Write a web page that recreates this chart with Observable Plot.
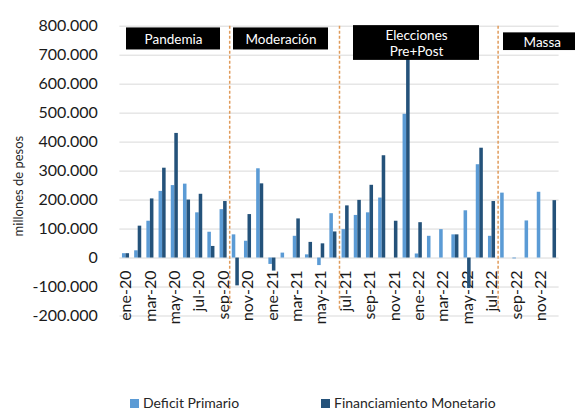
<!DOCTYPE html>
<html>
<head>
<meta charset="utf-8">
<script src="https://cdn.jsdelivr.net/npm/d3@7"></script>
<script src="https://cdn.jsdelivr.net/npm/@observablehq/plot@0.6"></script>
<style>
  body { margin: 0; background: #fff; font-family: Lato, sans-serif; }
  #chart { position: relative; width: 575px; height: 410px; overflow: hidden; }
  .legend { position: absolute; top: 393px; left: 0; width: 575px; height: 20px;
            font-size: 14px; line-height: 20px; color: #262626; }
  .item { position: absolute; top: 0; display: flex; align-items: center; gap: 4px; white-space: nowrap; }
  .sw { width: 9px; height: 9px; display: inline-block; }
</style>
</head>
<body>
<div id="chart"></div>
<script>
// Monthly series, in millones de pesos
const months = [
  "ene-20","feb-20","mar-20","abr-20","may-20","jun-20","jul-20","ago-20","sep-20","oct-20","nov-20","dic-20",
  "ene-21","feb-21","mar-21","abr-21","may-21","jun-21","jul-21","ago-21","sep-21","oct-21","nov-21","dic-21",
  "ene-22","feb-22","mar-22","abr-22","may-22","jun-22","jul-22","ago-22","sep-22","oct-22","nov-22","dic-22"
];
const deficitPrimario = [
  15000, 25000, 127000, 230000, 250000, 255000, 156000, 89000, 167000, 80000, 58000, 308000,
  -22000, 17000, 75000, 11000, -26000, 153000, 98000, 147000, 156000, 207000, 0, 496000,
  14000, 75000, 98000, 80000, 163000, 322000, 75000, 224000, -3000, 128000, 227000, 0
];
const financiamientoMonetario = [
  15000, 110000, 204000, 310000, 430000, 200000, 220000, 40000, 195000, -96000, 150000, 256000,
  -45000, 0, 135000, 54000, 49000, 90000, 180000, 199000, 251000, 353000, 127000, 700000,
  122000, 0, 0, 80000, -105000, 379000, 195000, 0, 0, 0, 0, 198000
];
const yTicks = [-200000, -100000, 0, 100000, 200000, 300000, 400000, 500000, 600000, 700000, 800000];
const seriesNames = ["Deficit Primario", "Financiamiento Monetario"];
const periods = [
  { name: "Pandemia", from: "ene-20", to: "sep-20" },
  { name: "Moderación", from: "oct-20", to: "jun-21" },
  { name: "Elecciones\nPre+Post", from: "jul-21", to: "jul-22" },
  { name: "Massa", from: "ago-22", to: "dic-22" }
];

const colors = ["#5b9bd5", "#24527a"];
const idx = m => months.indexOf(m);
const fmt = d3.formatLocale({ decimal: ",", thousands: ".", grouping: [3], currency: ["$", ""], minus: "-" }).format(",d");

const rowsA = months.map((m, i) => ({ i, v: deficitPrimario[i] }));
const rowsB = months.map((m, i) => ({ i, v: financiamientoMonetario[i] }));
const labelIdx = months.map((m, i) => i).filter(i => i % 2 === 0);
const separators = periods.slice(1).map(p => idx(p.from) - 0.5);

// Label boxes: horizontal insets in px, vertical extent in axis units
const boxLayout = {
  "Pandemia":             { l: 6.6,  r: 9.2,   y1: 718000, y2: 794000 },
  "Moderación":           { l: 3.8,  r: 11,    y1: 718000, y2: 794000 },
  "Elecciones\nPre+Post": { l: 14,   r: 18.6,  y1: 682000, y2: 802000 },
  "Massa":                { l: 5.4,  r: -22,   y1: 716000, y2: 777000 }
};
const boxMarks = periods.flatMap(p => {
  const b = boxLayout[p.name];
  const x1 = idx(p.from) - 0.5, x2 = idx(p.to) + 0.5;
  return [
    Plot.rect([p], { x1: () => x1, x2: () => x2, y1: () => b.y1, y2: () => b.y2,
                     fill: "#000", insetLeft: b.l, insetRight: b.r }),
    Plot.text([p], { x: () => (x1 + x2) / 2, y: () => (b.y1 + b.y2) / 2, dx: (b.l - b.r) / 2,
                     text: d => d.name, fill: "#fff", fontSize: 13.5, lineHeight: 1.18 })
  ];
});

const chart = Plot.plot({
  width: 575,
  height: 390,
  marginLeft: 119.4,
  marginRight: 16.4,
  marginTop: 25.7,
  marginBottom: 74.5,
  style: { fontFamily: "Lato, sans-serif", fontSize: "16px", color: "#1a1a1a", background: "#fff" },
  x: { domain: [-0.5, 35.5], axis: null },
  y: { domain: [-200000, 800000], axis: null },
  marks: [
    Plot.gridY(yTicks, { stroke: "#d9d9d9", strokeOpacity: 1 }),
    Plot.axisY(yTicks, { tickSize: 0, tickPadding: 22, tickFormat: fmt, fontSize: 16, label: null }),
    Plot.text(labelIdx, { x: d => d, y: () => 0, text: d => months[d], rotate: -90,
                          textAnchor: "end", dy: 12.5, fontSize: 16, fill: "#1a1a1a" }),
    Plot.rectY(rowsA, { x1: d => d.i - 0.29, x2: d => d.i, y1: () => 0, y2: "v", fill: colors[0] }),
    Plot.rectY(rowsB, { x1: d => d.i, x2: d => d.i + 0.29, y1: () => 0, y2: "v", fill: colors[1] }),
    Plot.ruleX(separators, { x: d => d, y1: () => 800000, y2: () => -180000,
                             stroke: "#e09a5a", strokeWidth: 1.5, strokeDasharray: "3,2" }),
    ...boxMarks,
    Plot.text(["millones de pesos"], { frameAnchor: "left", textAnchor: "middle", rotate: -90,
                                       dx: -101, dy: 15, fontSize: 13, fill: "#262626" })
  ]
});

const root = document.getElementById("chart");
root.appendChild(chart);

const legend = document.createElement("div");
legend.className = "legend";
const legendLeft = [130, 321];
seriesNames.forEach((name, k) => {
  const item = document.createElement("div");
  item.className = "item";
  item.style.left = legendLeft[k] + "px";
  const sw = document.createElement("span");
  sw.className = "sw";
  sw.style.background = colors[k];
  const label = document.createElement("span");
  label.textContent = name;
  item.appendChild(sw);
  item.appendChild(label);
  legend.appendChild(item);
});
root.appendChild(legend);
</script>
</body>
</html>
